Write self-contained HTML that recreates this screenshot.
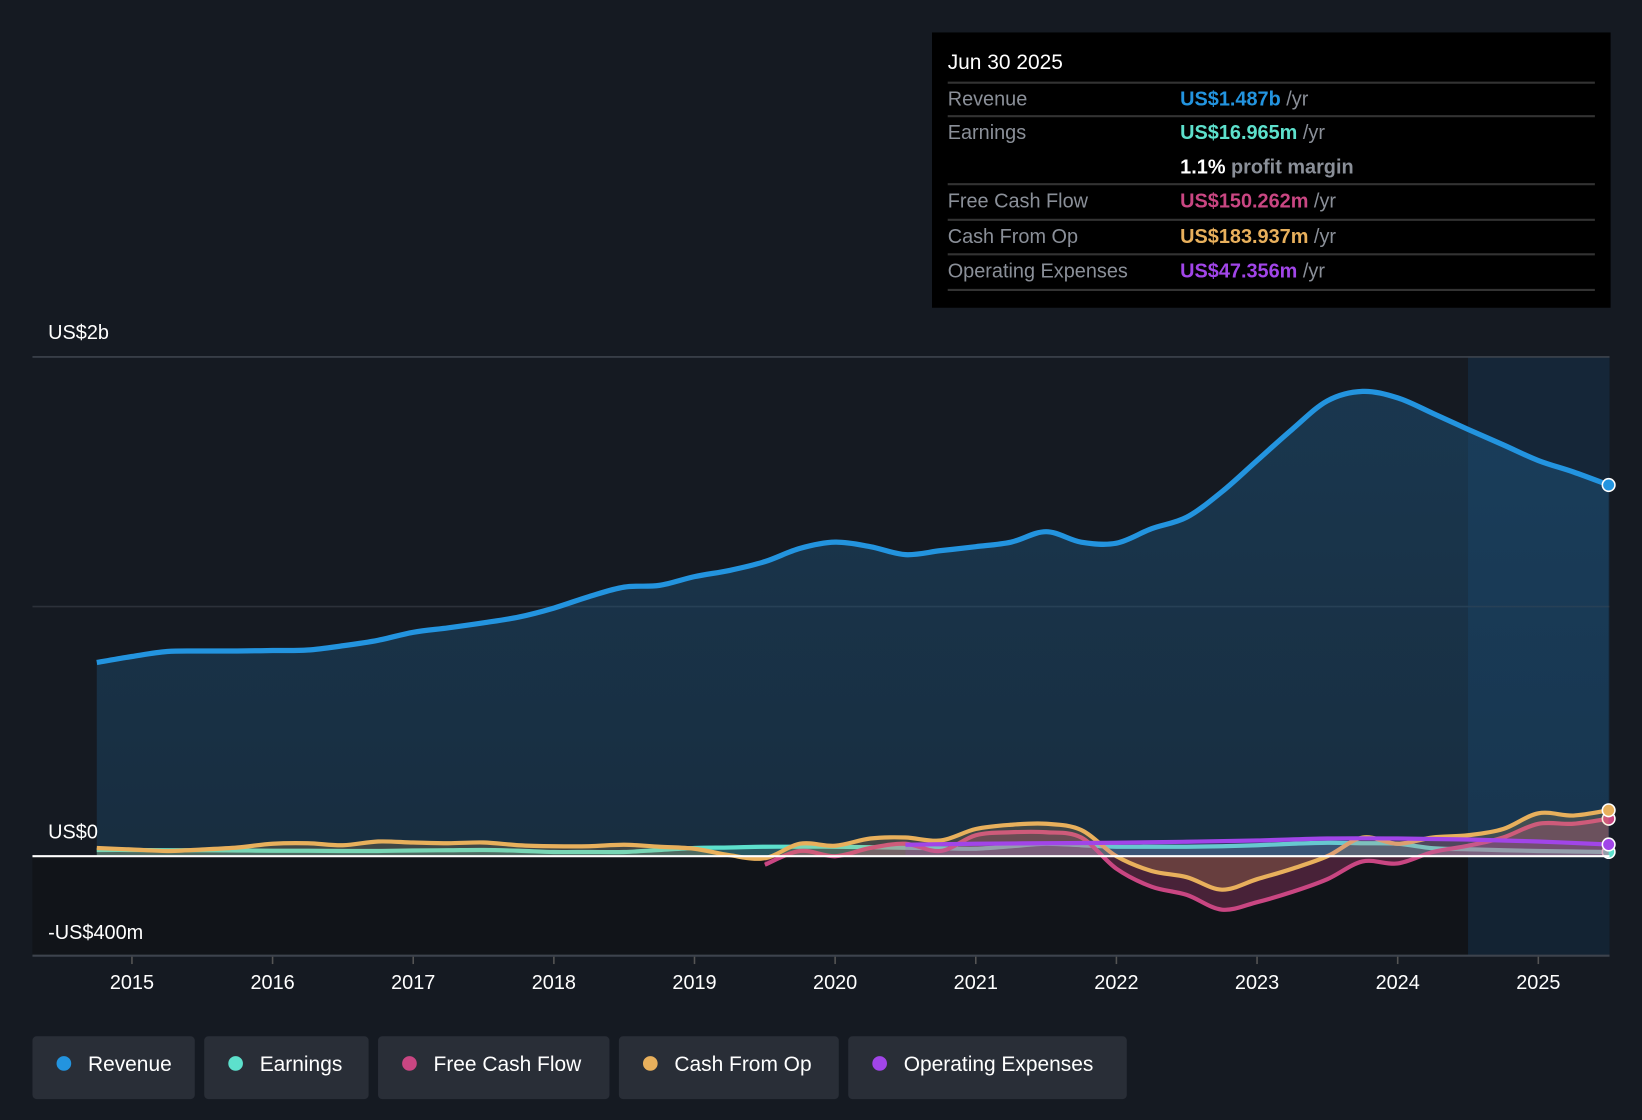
<!DOCTYPE html>
<html><head><meta charset="utf-8"><style>
html,body{margin:0;padding:0;background:#151a22;width:1642px;height:1120px;overflow:hidden}
svg{display:block;font-family:"Liberation Sans",sans-serif}
</style></head><body>
<svg id="chart" width="1642" height="1120" viewBox="0 0 1568 1070" preserveAspectRatio="none">
<defs><linearGradient id="revGrad" x1="0" y1="0" x2="0" y2="1"><stop offset="0" stop-color="#1f5a85" stop-opacity="0.45"/><stop offset="1" stop-color="#1f5a85" stop-opacity="0.3"/></linearGradient></defs>
<rect x="0" y="0" width="1568" height="1070" fill="#151a22"/>
<g id="plot"></g>
<g id="tooltip">
 <rect x="890" y="31" width="648" height="263" fill="#000"/>
 <text x="905" y="66" fill="#fff" font-size="20">Jun 30 2025</text>
 <g stroke="#333" stroke-width="2">
  <line x1="905" y1="79" x2="1523" y2="79"/><line x1="905" y1="111" x2="1523" y2="111"/>
  <line x1="905" y1="176" x2="1523" y2="176"/><line x1="905" y1="210" x2="1523" y2="210"/>
  <line x1="905" y1="243" x2="1523" y2="243"/><line x1="905" y1="277" x2="1523" y2="277"/>
 </g>
 <g font-size="19" fill="#8a8f98">
  <text x="905" y="101">Revenue</text><text x="905" y="133">Earnings</text>
  <text x="905" y="198">Free Cash Flow</text><text x="905" y="232">Cash From Op</text>
  <text x="905" y="265">Operating Expenses</text>
 </g>
 <g font-size="19" font-weight="bold">
  <text x="1127" y="101" fill="#2394df">US$1.487b <tspan fill="#8a8f98" font-weight="normal">/yr</tspan></text>
  <text x="1127" y="133" fill="#5de0cc">US$16.965m <tspan fill="#8a8f98" font-weight="normal">/yr</tspan></text>
  <text x="1127" y="166" fill="#fff">1.1% <tspan fill="#8a8f98">profit margin</tspan></text>
  <text x="1127" y="198" fill="#c94682">US$150.262m <tspan fill="#8a8f98" font-weight="normal">/yr</tspan></text>
  <text x="1127" y="232" fill="#e8b05c">US$183.937m <tspan fill="#8a8f98" font-weight="normal">/yr</tspan></text>
  <text x="1127" y="265" fill="#a145e8">US$47.356m <tspan fill="#8a8f98" font-weight="normal">/yr</tspan></text>
 </g>
</g>
<g id="legend"></g>
</svg>
<script>
const years=[2014.75,2015,2015.25,2015.5,2015.75,2016,2016.25,2016.5,2016.75,2017,2017.25,2017.5,2017.75,2018,2018.25,2018.5,2018.75,2019,2019.25,2019.5,2019.75,2020,2020.25,2020.5,2020.75,2021,2021.25,2021.5,2021.75,2022,2022.25,2022.5,2022.75,2023,2023.25,2023.5,2023.75,2024,2024.25,2024.5,2024.75,2025,2025.25,2025.5];
const revenue=[776,800,820,822,822,824,826,843,865,897,915,935,958,994,1040,1078,1085,1120,1145,1180,1233,1258,1240,1208,1224,1240,1258,1300,1258,1254,1312,1358,1460,1585,1710,1824,1862,1836,1774,1710,1648,1585,1539,1487];
const cashOp=[33,27,21,27,35,50,52,44,59,55,52,55,44,40,40,46,38,30,4,-8,50,42,71,75,63,109,126,130,105,0,-59,-84,-134,-92,-50,0,75,50,75,84,109,172,163,184];
const earnings=[25,25,24,24,23,22,22,21,21,23,24,25,22,17,17,17,25,33,35,38,38,38,36,34,32,30,40,50,44,38,38,38,40,44,50,54,52,50,32,28,24,21,19,17];
const fcfYears=[2019.5,2019.75,2020,2020.25,2020.5,2020.75,2021,2021.25,2021.5,2021.75,2022,2022.25,2022.5,2022.75,2023,2023.25,2023.5,2023.75,2024,2024.25,2024.5,2024.75,2025,2025.25,2025.5];
const fcf=[-34,21,0,33,50,21,84,96,96,75,-50,-122,-155,-214,-184,-143,-92,-21,-29,17,42,75,130,130,150];
const opexYears=[2020.5,2021,2021.5,2022,2022.5,2023,2023.5,2024,2024.5,2025,2025.5];
const opex=[46,50,52,54,58,63,71,71,67,59,47];
const xTicks=[2015,2016,2017,2018,2019,2020,2021,2022,2023,2024,2025];
const yLabels=["US$2b","US$0","-US$400m"];

const NS="http://www.w3.org/2000/svg";
const X=y=>126+(y-2015)*134.3;
const Y=m=>818-m*0.2385;
const plot=document.getElementById('plot');
function mk(tag,attrs,parent){const e=document.createElementNS(NS,tag);for(const k in attrs)e.setAttribute(k,attrs[k]);(parent||plot).appendChild(e);return e;}
function smooth(pts){let d=`M${pts[0][0]},${pts[0][1]}`;for(let i=0;i<pts.length-1;i++){const p0=pts[Math.max(0,i-1)],p1=pts[i],p2=pts[i+1],p3=pts[Math.min(pts.length-1,i+2)];const c1=[p1[0]+(p2[0]-p0[0])/6,p1[1]+(p2[1]-p0[1])/6],c2=[p2[0]-(p3[0]-p1[0])/6,p2[1]-(p3[1]-p1[1])/6];d+=`C${c1[0]},${c1[1]} ${c2[0]},${c2[1]} ${p2[0]},${p2[1]}`;}return d;}

let e;
e=mk('rect',{x:31,y:818,width:1506,height:95,fill:'#111419'});

e=mk('rect',{x:X(2024.5),y:341,width:1537-X(2024.5),height:572,fill:'#163654',opacity:0.45});

e=mk('line',{x1:31,y1:341,x2:1537,y2:341,stroke:'#3d434d','stroke-width':1.5});

e=mk('line',{x1:31,y1:Y(1000),x2:1537,y2:Y(1000),stroke:'#2c313a','stroke-width':1.5});


function series(xs,vals,color,name,width,fillOp,fillPaint){
  const pts=xs.map((y,i)=>[X(y),Y(vals[i])]);
  const d=smooth(pts);
  if(fillOp){const f=mk('path',{d:d+`L${pts[pts.length-1][0]},${Y(0)}L${pts[0][0]},${Y(0)}Z`,fill:fillPaint||color,'fill-opacity':fillOp});
  }
  const l=mk('path',{d:d,fill:'none',stroke:color,'stroke-width':width,'stroke-linejoin':'round'});
  
  const p=pts[pts.length-1];
  const c=mk('circle',{cx:p[0],cy:p[1],r:6,fill:color,stroke:'#fff','stroke-width':1.5});
  
}
series(years,revenue,'#2394df','revenue',5,1,'url(#revGrad)');
series(years,earnings,'#5de0cc','earnings',4,0.25);
series(fcfYears,fcf,'#c94682','free-cash-flow',4,0.3);
series(years,cashOp,'#e8b05c','cash-from-op',4,0.2);
series(opexYears,opex,'#a145e8','operating-expenses',4,0.15);

e=mk('line',{x1:31,y1:818,x2:1537,y2:818,stroke:'#fff','stroke-width':2});

e=mk('line',{x1:31,y1:913,x2:1537,y2:913,stroke:'#3d434d','stroke-width':2});


const yLabelY=[324,801,897];
yLabels.forEach((t,i)=>{const tx=mk('text',{x:46,y:yLabelY[i],fill:'#fff','font-size':19});
 tx.textContent=t;});
xTicks.forEach(t=>{const l=mk('line',{x1:X(t),y1:914,x2:X(t),y2:921,stroke:'#555','stroke-width':1.5});
 
 const tx=mk('text',{x:X(t),y:945,fill:'#fff','font-size':19,'text-anchor':'middle'});tx.textContent=t;
 });

const legendNames=['Revenue','Earnings','Free Cash Flow','Cash From Op','Operating Expenses'];
const legendColors=['#2394df','#5de0cc','#c94682','#e8b05c','#a145e8'];
const legendX=[31,195,361,591,810],legendW=[155,157,221,210,266];
const lg=document.getElementById('legend');
legendNames.forEach((n,i)=>{const g=mk('g',{},lg);
 
 mk('rect',{x:legendX[i],y:990,width:legendW[i],height:60,rx:4,fill:'#292e37'},g);
 mk('circle',{cx:legendX[i]+30,cy:1016,r:7,fill:legendColors[i]},g);
 const t=mk('text',{x:legendX[i]+53,y:1023,fill:'#fff','font-size':20},g);t.textContent=n;});
</script>
</body></html>
